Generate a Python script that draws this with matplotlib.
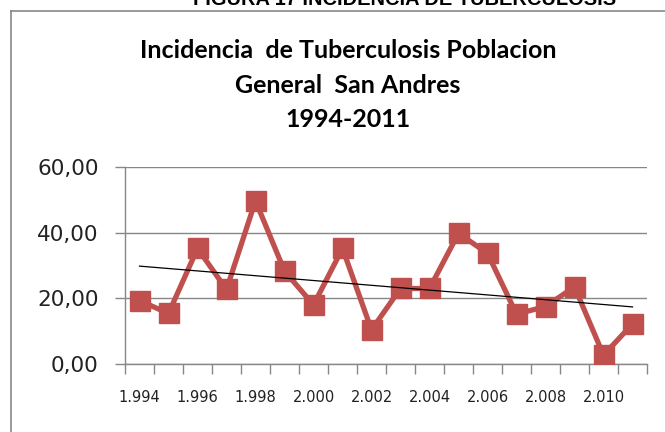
import matplotlib
matplotlib.use("Agg")
import matplotlib.pyplot as plt
from matplotlib.lines import Line2D
import numpy as np

# Datos
anios = [1994, 1995, 1996, 1997, 1998, 1999, 2000, 2001, 2002,
         2003, 2004, 2005, 2006, 2007, 2008, 2009, 2010, 2011]
incidencia = [19.3, 15.4, 35.2, 22.7, 49.7, 28.3, 18.0, 35.2, 10.4,
              23.0, 23.0, 39.8, 33.7, 15.2, 17.5, 23.5, 2.7, 12.2]
etiquetas_x = ['1.994', '1.996', '1.998', '2.000', '2.002',
               '2.004', '2.006', '2.008', '2.010']
valores_y = [0, 20, 40, 60]
etiquetas_y = ['0,00', '20,00', '40,00', '60,00']

rojo = '#C0504D'
gris = '#878787'

fig = plt.figure(figsize=(6.65, 4.32), dpi=100)
ax = fig.add_axes([125 / 665, 1 - 364 / 432, (647 - 125) / 665, (364 - 167) / 432])

x = np.arange(len(anios))
ax.plot(x, incidencia, color=rojo, lw=3.8, marker='s', ms=14,
        mfc=rojo, mec=rojo, zorder=3)

# linea de tendencia (lineal)
p = np.polyfit(x, incidencia, 1)
ax.plot(x, np.polyval(p, x), color='black', lw=0.9, zorder=4)

ax.set_xlim(-0.5, len(anios) - 0.5)
ax.set_ylim(0, 60)
ax.set_yticks(valores_y)
ax.set_yticklabels(etiquetas_y, fontsize=15.5, family='DejaVu Sans', color='#222222')
ax.set_xticks(x[::2])
ax.set_xticklabels(etiquetas_x, fontsize=10.5, family='DejaVu Sans', color='#222222')
ax.set_xticks(np.arange(-0.5, len(anios)), minor=True)
ax.tick_params(axis='x', which='major', length=0, pad=19)
ax.tick_params(axis='x', which='minor', length=7, color=gris, width=1)
ax.tick_params(axis='y', length=7, color=gris, width=1, pad=12)
ax.grid(axis='y', color=gris, lw=1)
ax.set_axisbelow(True)
for s in ['top', 'right']:
    ax.spines[s].set_visible(False)
for s in ['left', 'bottom']:
    ax.spines[s].set_color(gris)
    ax.spines[s].set_linewidth(1)

titulo = ['Incidencia  de Tuberculosis Poblacion', 'General  San Andres', '1994-2011']
for linea, base in zip(titulo, [58, 93, 127]):
    fig.text(348 / 665, 1 - base / 432, linea, ha='center', va='baseline',
             fontsize=18, family='Lato', weight='bold')

# encabezado cortado del documento
fig.text(405 / 665, 1 - 5 / 432, 'FIGURA 17 INCIDENCIA DE TUBERCULOSIS',
         ha='center', va='baseline', fontsize=14.4, family='Liberation Sans',
         weight='bold')

# marco del grafico
fig.add_artist(Line2D([10.5 / 665, 1], [1 - 11 / 432, 1 - 11 / 432],
                      color=gris, lw=1.2, transform=fig.transFigure))
fig.add_artist(Line2D([10.5 / 665, 10.5 / 665], [0, 1 - 11 / 432],
                      color=gris, lw=1.2, transform=fig.transFigure))

fig.savefig('out.png', dpi=100)
